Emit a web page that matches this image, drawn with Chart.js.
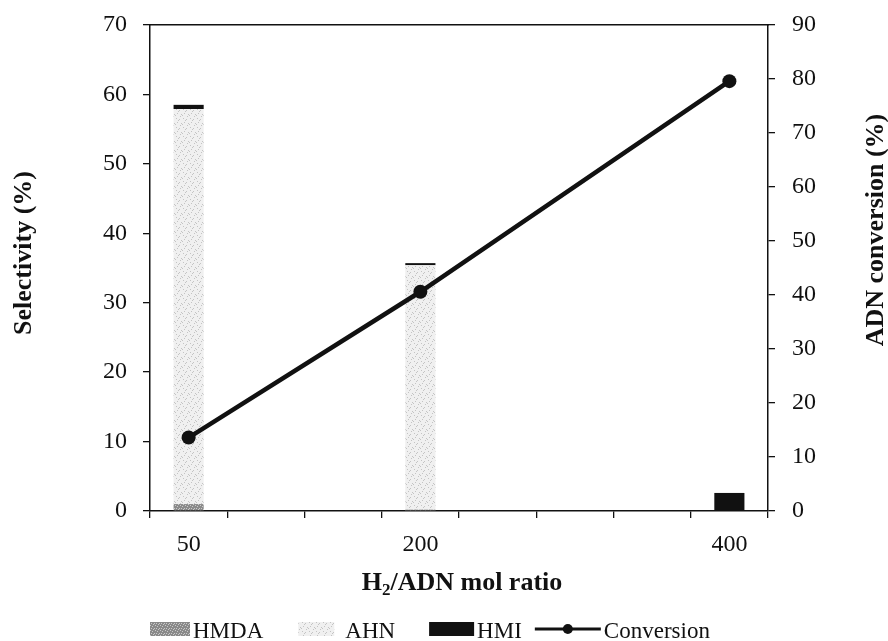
<!DOCTYPE html>
<html lang="en">
<head>
<meta charset="UTF-8">
<title>Selectivity and ADN conversion</title>
<script src="https://cdn.jsdelivr.net/npm/chart.js"></script>
<style>
  html, body { margin: 0; padding: 0; background: #fff; }
</style>
</head>
<body>
<canvas id="Chart" width="888" height="641"></canvas>
<script>
// H2/ADN mol ratio categories (only some are labelled on the axis)
const ratios = [50, 100, 150, 200, 250, 300, 350, 400];
const shownTicks = [50, 200, 400];

// selectivity (%), stacked bars
const hmda = [1.0, null, null, 0.2, null, null, null, 0];
const ahn  = [56.9, null, null, 35.2, null, null, null, 0];
const hmi  = [0.6, null, null, 0.3, null, null, null, 2.6];

// ADN conversion (%), right axis
const conversion = [13.6, null, null, 40.6, null, null, null, 79.6];

const leftTitle = 'Selectivity (%)';
const rightTitle = 'ADN conversion (%)';

const ink = '#111';

function speckle(base, dot, w, h, spots) {
    const c = document.createElement('canvas');
    c.width = w; c.height = h;
    const g = c.getContext('2d');
    g.fillStyle = base;
    g.fillRect(0, 0, w, h);
    g.fillStyle = dot;
    spots.forEach(p => g.fillRect(p[0], p[1], 1, 1));
    return c;
}

const ctx = document.getElementById('Chart').getContext('2d');
const ahnFill = ctx.createPattern(speckle('#f0f0f0', '#c4c4c4', 7, 9,
    [[1, 1], [4, 2], [2, 5], [6, 6], [0, 7], [5, 8], [3, 3]]), 'repeat');
const hmdaFill = ctx.createPattern(speckle('#8a8a8a', '#c9c9c9', 5, 5,
    [[0, 0], [2, 1], [4, 3], [1, 3], [3, 4]]), 'repeat');

// legend swatch widths, gap swatch->text, gap after each item (style only)
const swatchW = [40, 36, 45, 66];
const swatchGap = [3, 11, 3, 3];
const itemGap = [35, 34, 13, 0];

function fixVertical(width) {
    return function(s) {
        s.width = width;
        s.paddingTop = 0;
        s.paddingBottom = 0;
    };
}

const extras = {
    id: 'extras',
    afterDraw(chart) {
        const c = chart.ctx;
        const area = chart.chartArea;
        c.save();
        c.fillStyle = ink;
        c.textAlign = 'center';
        c.textBaseline = 'middle';
        c.font = 'bold 26px "Liberation Serif"';

        c.save();
        c.translate(24, 253);
        c.rotate(-Math.PI / 2);
        c.fillText(leftTitle, 0, 0);
        c.restore();

        c.save();
        c.translate(876, 230);
        c.rotate(-Math.PI / 2);
        c.fillText(rightTitle, 0, 0);
        c.restore();

        // x title with subscript 2
        c.textAlign = 'left';
        c.textBaseline = 'alphabetic';
        const big = 'bold 26px "Liberation Serif"';
        const small = 'bold 17px "Liberation Serif"';
        c.font = big;
        const w1 = c.measureText('H').width;
        const w3 = c.measureText('/ADN mol ratio').width;
        c.font = small;
        const w2 = c.measureText('2').width;
        let x = (area.left + area.right) / 2 + 3 - (w1 + w2 + w3) / 2;
        const base = 590;
        c.font = big; c.fillText('H', x, base); x += w1;
        c.font = small; c.fillText('2', x, base + 5); x += w2;
        c.font = big; c.fillText('/ADN mol ratio', x, base);

        // legend
        c.font = '23px "Liberation Serif"';
        const ds = chart.data.datasets;
        x = area.left;
        const ly = 629;
        ds.forEach((d, i) => {
            if (d.type === 'line') {
                c.strokeStyle = ink;
                c.lineWidth = 3;
                c.beginPath();
                c.moveTo(x, ly);
                c.lineTo(x + swatchW[i], ly);
                c.stroke();
                c.beginPath();
                c.arc(x + swatchW[i] / 2, ly, 5, 0, Math.PI * 2);
                c.fillStyle = ink;
                c.fill();
            } else {
                c.fillStyle = d.backgroundColor;
                c.fillRect(x, ly - 7, swatchW[i], 14);
            }
            x += swatchW[i] + swatchGap[i];
            c.fillStyle = ink;
            c.fillText(d.label, x, 638);
            x += c.measureText(d.label).width + itemGap[i];
        });
        c.restore();
    }
};

Chart.defaults.font.family = '"Liberation Serif"';
Chart.defaults.color = ink;

new Chart(ctx, {
    type: 'bar',
    data: {
        labels: ratios.map(String),
        datasets: [
            { label: 'HMDA', data: hmda, backgroundColor: hmdaFill, yAxisID: 'y', order: 1 },
            { label: 'AHN', data: ahn, backgroundColor: ahnFill, yAxisID: 'y', order: 1 },
            { label: 'HMI', data: hmi, backgroundColor: ink, yAxisID: 'y', order: 1 },
            {
                type: 'line', label: 'Conversion', data: conversion, yAxisID: 'y1', order: 0,
                borderColor: ink, backgroundColor: ink, borderWidth: 4.5,
                pointRadius: 7, pointBackgroundColor: ink, pointBorderWidth: 0,
                spanGaps: true, tension: 0
            }
        ]
    },
    options: {
        responsive: false,
        animation: false,
        layout: { padding: 0 },
        datasets: { bar: { barPercentage: 0.39, categoryPercentage: 1.0 } },
        plugins: { legend: { display: false }, tooltip: { enabled: false } },
        scales: {
            x: {
                stacked: true,
                offset: true,
                grid: { offset: true, drawOnChartArea: false, tickLength: 7, color: ink, lineWidth: 1.3 },
                border: { color: ink, width: 1.5 },
                ticks: {
                    autoSkip: false, maxRotation: 0, padding: 12,
                    font: { size: 24 },
                    callback: function(v, i) {
                        return shownTicks.includes(ratios[i]) ? String(ratios[i]) : '';
                    }
                },
                afterFit: function(s) { s.height = 130; }
            },
            xTop: {
                type: 'category',
                position: 'top',
                grid: { display: false },
                ticks: { display: false },
                border: { color: ink, width: 1.5 },
                afterFit: function(s) { s.height = 25; }
            },
            y: {
                stacked: true,
                position: 'left',
                min: 0, max: 70,
                ticks: { stepSize: 10, padding: 16, font: { size: 24 } },
                grid: { drawOnChartArea: false, tickLength: 7, color: ink, lineWidth: 1.3 },
                border: { color: ink, width: 1.5 },
                afterFit: fixVertical(150)
            },
            y1: {
                position: 'right',
                min: 0, max: 90,
                ticks: { stepSize: 10, padding: 17, font: { size: 24 } },
                grid: { drawOnChartArea: false, tickLength: 7, color: ink, lineWidth: 1.3 },
                border: { color: ink, width: 1.5 },
                afterFit: fixVertical(120)
            }
        }
    },
    plugins: [extras]
});
</script>
</body>
</html>
